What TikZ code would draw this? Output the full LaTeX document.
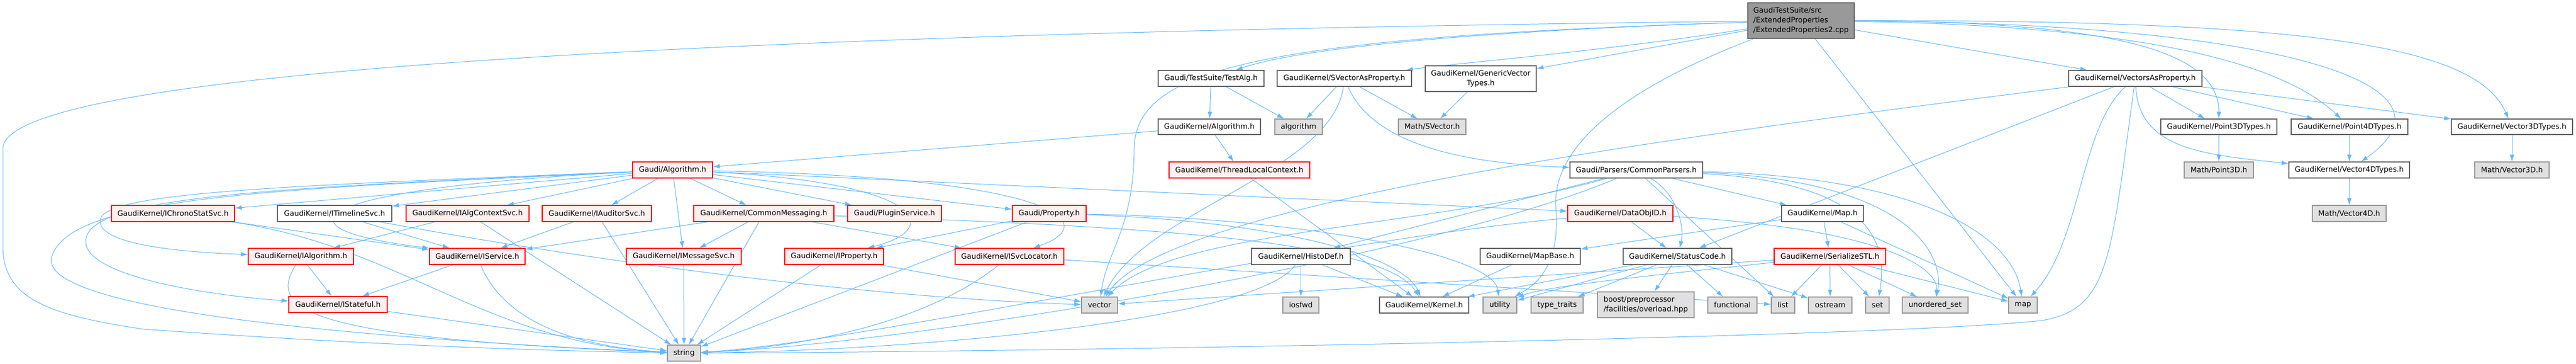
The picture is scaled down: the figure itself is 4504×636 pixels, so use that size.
\documentclass[tikz,border=0pt]{standalone}
\usepackage{fontspec}
\newfontfamily\dvs{DejaVu Sans}
\usetikzlibrary{arrows.meta}
\pgfdeclarelayer{edgelayer}
\pgfsetlayers{edgelayer,main}
\definecolor{eblue}{HTML}{63B8FF}
\definecolor{rfill}{HTML}{FFF0F0}
\definecolor{wline}{HTML}{666666}
\definecolor{gfill}{HTML}{E0E0E0}
\definecolor{gline}{HTML}{999999}
\definecolor{tfill}{HTML}{999999}
\tikzset{
  base/.style={inner sep=0pt, line width=1.2pt, font={\dvs\fontsize{12.9}{16.7}\selectfont}, align=center},
  redbox/.style={base, fill=rfill, draw=red},
  whitebox/.style={base, fill=white, draw=wline},
  graybox/.style={base, fill=gfill, draw=gline},
  topbox/.style={base, fill=tfill, draw=wline, align=left},
  edge/.style={draw=eblue, line width=1pt, -{Latex[length=12pt,width=8pt]}},
}
\newcommand{\bx}[7]{\node[#2, minimum width={(#4-#3)*1pt}, minimum height={(#6-#5)*1pt}] (#1) at ({(#3+#4)/2},{(#5+#6)/2}) {#7};}
\begin{document}
\begin{tikzpicture}[x=1pt,y=-1pt]
\useasboundingbox (0,0) rectangle (4504,636);
% ---------- nodes ----------
\bx{T}{topbox}{3056}{3242}{5}{67}{GaudiTestSuite/src\\/ExtendedProperties\\/ExtendedProperties2.cpp}
\bx{testalg}{whitebox}{2025}{2210}{123}{151}{Gaudi/TestSuite/TestAlg.h}
\bx{svp}{whitebox}{2233}{2468}{123}{151}{GaudiKernel/SVectorAsProperty.h}
\bx{gvt}{whitebox}{2492}{2686}{115}{160}{GaudiKernel/GenericVector\\Types.h}
\bx{vap}{whitebox}{3617}{3850}{123}{151}{GaudiKernel/VectorsAsProperty.h}
\bx{gkalg}{whitebox}{2025}{2204}{208}{235}{GaudiKernel/Algorithm.h}
\bx{algo}{graybox}{2229}{2312}{208}{235}{algorithm}
\bx{svec}{graybox}{2445}{2563}{208}{235}{Math/SVector.h}
\bx{p3t}{whitebox}{3778}{3981}{208}{235}{GaudiKernel/Point3DTypes.h}
\bx{p4t}{whitebox}{4006}{4210}{208}{235}{GaudiKernel/Point4DTypes.h}
\bx{v3t}{whitebox}{4286}{4498}{208}{235}{GaudiKernel/Vector3DTypes.h}
\bx{galg}{redbox}{1106}{1246}{283}{311}{Gaudi/Algorithm.h}
\bx{tlc}{redbox}{2044}{2290}{283}{311}{GaudiKernel/ThreadLocalContext.h}
\bx{cp}{whitebox}{2745}{2977}{283}{311}{Gaudi/Parsers/CommonParsers.h}
\bx{mp3}{graybox}{3819}{3940}{283}{311}{Math/Point3D.h}
\bx{v4t}{whitebox}{4002}{4213}{283}{311}{GaudiKernel/Vector4DTypes.h}
\bx{mv3}{graybox}{4327}{4457}{283}{311}{Math/Vector3D.h}
\bx{ichrono}{redbox}{195}{410}{359}{387}{GaudiKernel/IChronoStatSvc.h}
\bx{itime}{whitebox}{485}{685}{359}{387}{GaudiKernel/ITimelineSvc.h}
\bx{ialgctx}{redbox}{710}{925}{359}{387}{GaudiKernel/IAlgContextSvc.h}
\bx{iaud}{redbox}{948}{1139}{359}{387}{GaudiKernel/IAuditorSvc.h}
\bx{cmsg}{redbox}{1213}{1458}{359}{387}{GaudiKernel/CommonMessaging.h}
\bx{plug}{redbox}{1482}{1646}{359}{387}{Gaudi/PluginService.h}
\bx{prop}{redbox}{1770}{1899}{359}{387}{Gaudi/Property.h}
\bx{doid}{redbox}{2741}{2925}{359}{387}{GaudiKernel/DataObjID.h}
\bx{gmap}{whitebox}{3115}{3258}{359}{387}{GaudiKernel/Map.h}
\bx{mv4}{graybox}{4043}{4172}{359}{387}{Math/Vector4D.h}
\bx{ialg}{redbox}{434}{618}{434}{462}{GaudiKernel/IAlgorithm.h}
\bx{isvc}{redbox}{751}{918}{434}{462}{GaudiKernel/IService.h}
\bx{imsg}{redbox}{1095}{1296}{434}{462}{GaudiKernel/IMessageSvc.h}
\bx{iprop}{redbox}{1372}{1545}{434}{462}{GaudiKernel/IProperty.h}
\bx{isl}{redbox}{1670}{1860}{434}{462}{GaudiKernel/ISvcLocator.h}
\bx{hdef}{whitebox}{2188}{2361}{434}{462}{GaudiKernel/HistoDef.h}
\bx{mapbase}{whitebox}{2588}{2763}{434}{462}{GaudiKernel/MapBase.h}
\bx{sc}{whitebox}{2838}{3028}{434}{462}{GaudiKernel/StatusCode.h}
\bx{sstl}{redbox}{3102}{3297}{434}{462}{GaudiKernel/SerializeSTL.h}
\bx{istate}{redbox}{505}{677}{518}{546}{GaudiKernel/IStateful.h}
\bx{vec}{graybox}{1891}{1954}{519}{547}{vector}
\bx{iosfwd}{graybox}{2243}{2306}{519}{547}{iosfwd}
\bx{kernel}{whitebox}{2412}{2568}{519}{547}{GaudiKernel/Kernel.h}
\bx{util}{graybox}{2593}{2652}{519}{547}{utility}
\bx{tt}{graybox}{2677}{2768}{519}{547}{type\_traits}
\node[graybox, align=left, minimum width=169pt, minimum height=45pt] (boost) at (2877.5,532.5) {boost/preprocessor\\/facilities/overload.hpp};
\bx{func}{graybox}{2986}{3072}{519}{547}{functional}
\bx{nlist}{graybox}{3097}{3138}{519}{547}{list}
\bx{ostr}{graybox}{3162}{3238}{519}{547}{ostream}
\bx{nset}{graybox}{3262}{3303}{519}{547}{set}
\bx{uset}{graybox}{3326}{3441}{519}{547}{unordered\_set}
\bx{nmap}{graybox}{3512}{3562}{519}{547}{map}
\bx{str}{graybox}{1167}{1225}{603}{631}{string}
% ---------- edges (below the nodes) ----------
\begin{pgfonlayer}{edgelayer}
% top node
\draw[edge] (T) .. controls (2700,50) and (2300,75) .. (testalg);
\draw[edge] (T) .. controls (1500,55) and (5,110) .. (5,260) -- (5,430) .. controls (5,520) and (80,550) .. (250,575) .. controls (600,600) and (900,612) .. (str);
\draw[edge] (T) .. controls (2200,65) and (1985,120) .. (1983,260) .. controls (1982,400) and (1935,440) .. (vec);
\draw[edge] (T) .. controls (2800,90) and (2550,110) .. (svp);
\draw[edge] (T) -- (gvt);
\draw[edge] (T) -- (vap);
\draw[edge] (T) .. controls (3700,38) and (3880,90) .. (p3t);
\draw[edge] (T) .. controls (3750,45) and (3990,110) .. (p4t);
\draw[edge] (T) .. controls (3950,40) and (4330,140) .. (v4t);
\draw[edge] (T) .. controls (4050,35) and (4330,80) .. (v3t);
\draw[edge] (T) -- (nmap);
\draw[edge] (T) .. controls (2850,150) and (2715,250) .. (2720,360) .. controls (2730,470) and (2680,500) .. (util);
% row 1
\draw[edge] (testalg) -- (gkalg);
\draw[edge] (testalg) -- (algo);
\draw[edge] (svp) -- (algo);
\draw[edge] (svp) -- (svec);
\draw[edge] (svp) .. controls (2400,250) and (2550,285) .. (cp);
\draw[edge] (svp) .. controls (2330,300) and (2000,370) .. (vec);
\draw[edge] (gvt) -- (svec);
\draw[edge] (vap) -- (p3t);
\draw[edge] (vap) -- (p4t);
\draw[edge] (vap) -- (v3t);
\draw[edge] (vap) .. controls (3740,260) and (3850,270) .. (v4t);
\draw[edge] (vap) -- (sc);
\draw[edge] (vap) .. controls (3000,230) and (2050,350) .. (vec);
\draw[edge] (vap) .. controls (3637,220) and (3640,420) .. (nmap);
\draw[edge] (vap) .. controls (3690,450) and (3690,540) .. (3570,560) .. controls (3300,590) and (1800,615) .. (str);
% row 2
\draw[edge] (gkalg) -- (galg);
\draw[edge] (gkalg) -- (tlc);
\draw[edge] (p3t) -- (mp3);
\draw[edge] (p4t) -- (v4t);
\draw[edge] (v3t) -- (mv3);
% row 3
\draw[edge] (tlc) -- (kernel);
\draw[edge] (v4t) -- (mv4);
\draw[edge] (galg) -- (ichrono);
\draw[edge] (galg) -- (itime);
\draw[edge] (galg) -- (ialgctx);
\draw[edge] (galg) -- (iaud);
\draw[edge] (galg) -- (cmsg);
\draw[edge] (galg) -- (plug);
\draw[edge] (galg) -- (prop);
\draw[edge] (galg) -- (doid);
\draw[edge] (galg) -- (imsg);
\draw[edge] (galg) .. controls (1620,320) and (1650,400) .. (iprop);
\draw[edge] (galg) .. controls (1850,310) and (1930,390) .. (isl);
\draw[edge] (galg) .. controls (500,325) and (180,335) .. (175,385) .. controls (172,425) and (300,440) .. (ialg);
\draw[edge] (galg) .. controls (500,328) and (155,340) .. (150,420) .. controls (145,480) and (350,515) .. (istate);
\draw[edge] (galg) .. controls (520,330) and (470,400) .. (isvc.north west);
\draw[edge] (galg) .. controls (500,330) and (120,340) .. (90,450) .. controls (70,540) and (600,590) .. (str);
\draw[edge] (cp) -- (hdef);
\draw[edge] (cp) .. controls (2935,340) and (2945,400) .. (sc);
\draw[edge] (cp) -- (gmap);
\draw[edge] (cp) -- (nlist);
\draw[edge] (cp) .. controls (3280,320) and (3300,430) .. (nset);
\draw[edge] (cp) .. controls (3330,315) and (3400,440) .. (uset);
\draw[edge] (cp) .. controls (3380,310) and (3520,420) .. (nmap);
\draw[edge] (cp) .. controls (2500,400) and (2050,400) .. (vec);
\draw[edge] (cp) .. controls (2500,450) and (1600,600) .. (str);
% row 4
\draw[edge] (ichrono) -- (isvc);
\draw[edge] (ichrono) .. controls (700,430) and (850,600) .. (str);
\draw[edge] (itime) -- (isvc);
\draw[edge] (itime) .. controls (1000,450) and (1500,520) .. (vec);
\draw[edge] (ialgctx) -- (ialg);
\draw[edge] (ialgctx) -- (str);
\draw[edge] (iaud) -- (isvc);
\draw[edge] (iaud) -- (str);
\draw[edge] (cmsg) -- (isvc);
\draw[edge] (cmsg) -- (imsg);
\draw[edge] (cmsg) -- (isl);
\draw[edge] (cmsg) -- (str);
\draw[edge] (cmsg) .. controls (2000,395) and (2420,420) .. (kernel);
\draw[edge] (prop) -- (iprop);
\draw[edge] (prop) -- (str);
\draw[edge] (prop) .. controls (2200,385) and (2450,440) .. (kernel);
\draw[edge] (prop) .. controls (2250,380) and (2610,440) .. (util);
\draw[edge] (doid) -- (sc);
\draw[edge] (doid) .. controls (3300,400) and (3390,470) .. (uset);
\draw[edge] (doid) .. controls (2300,420) and (1500,600) .. (str);
\draw[edge] (gmap) -- (mapbase);
\draw[edge] (gmap) -- (sstl);
\draw[edge] (gmap) -- (nmap);
% row 5
\draw[edge] (ialg) -- (istate);
\draw[edge] (ialg) .. controls (470,540) and (520,590) .. (str);
\draw[edge] (isvc) -- (istate);
\draw[edge] (isvc) .. controls (880,560) and (1000,605) .. (str);
\draw[edge] (imsg) -- (str);
\draw[edge] (iprop) -- (str);
\draw[edge] (iprop) -- (vec);
\draw[edge] (isl) .. controls (1600,580) and (1350,610) .. (str);
\draw[edge] (isl) -- (nlist);
\draw[edge] (hdef) -- (iosfwd);
\draw[edge] (hdef) -- (kernel);
\draw[edge] (hdef) .. controls (2200,560) and (1600,612) .. (str);
\draw[edge] (mapbase) -- (kernel);
\draw[edge] (sc) -- (boost);
\draw[edge] (sc) -- (kernel);
\draw[edge] (sc) -- (func);
\draw[edge] (sc) -- (ostr);
\draw[edge] (sc) -- (tt);
\draw[edge] (sc) -- (util);
\draw[edge] (sstl) -- (nlist);
\draw[edge] (sstl) -- (ostr);
\draw[edge] (sstl) -- (nset);
\draw[edge] (sstl) -- (uset);
\draw[edge] (sstl) -- (nmap);
\draw[edge] (sstl) .. controls (2900,480) and (2700,500) .. (util);
\draw[edge] (sstl) -- (vec);
\draw[edge] (istate) -- (str);
\end{pgfonlayer}
\end{tikzpicture}
\end{document}
